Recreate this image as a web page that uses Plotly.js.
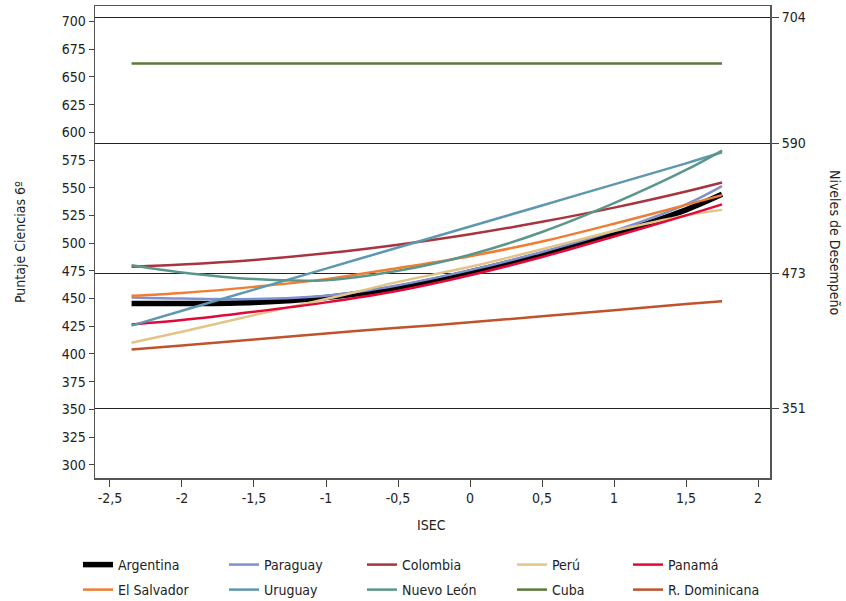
<!DOCTYPE html>
<html>
<head>
<meta charset="utf-8">
<script src="https://cdn.plot.ly/plotly-3.0.1.min.js"></script>
<style>html,body{margin:0;padding:0;background:#fff;}#chart{width:846px;height:601px;}</style>
</head>
<body>
<div id="chart"></div>
<script>
const isec = [-2.35, -2, -1.5, -1, -0.5, 0, 0.5, 1, 1.5, 1.75];
const argentina   = [445.5, 445.5, 446.5, 451, 460, 474, 490, 508, 530, 544];
const paraguay    = [451, 450, 449.5, 452.5, 462, 475.6, 492, 511, 535, 551.5];
const colombia    = [478.6, 480.6, 484.8, 490.8, 498.6, 508, 519.2, 532, 546.6, 554.7];
const peru        = [410, 420, 435, 449.5, 465, 478.6, 494.5, 511, 525, 530];
const panama      = [426.5, 430.5, 438, 446.5, 457, 471, 487.5, 506, 525, 535];
const elSalvador  = [452.4, 455, 460.5, 467.5, 477.5, 488.2, 501.5, 517.5, 534.5, 543.3];
const uruguay     = [425.5, 439, 458, 477, 496, 515, 534, 553, 572, 582];
const nuevoLeon   = [480, 473.5, 467.5, 466.5, 475, 489.5, 510, 536, 566, 583.5];
const cuba        = [662, 662, 662, 662, 662, 662, 662, 662, 662, 662];
const rDominicana = [404, 407.5, 413, 418.5, 423.5, 428.5, 434, 439.5, 445, 447.5];

const seriesNames = ["Argentina","Paraguay","Colombia","Perú","Panamá","El Salvador","Uruguay","Nuevo León","Cuba","R. Dominicana"];
const seriesData = [argentina, paraguay, colombia, peru, panama, elSalvador, uruguay, nuevoLeon, cuba, rDominicana];
const seriesColors = ["#000000","#7F90D0","#A8343F","#E2C486","#E2093A","#F07D32","#5E98B0","#5B968A","#5A7A38","#C0532C"];
const seriesWidths = [5.5, 2.5, 2.5, 2.5, 2.5, 2.5, 2.5, 2.5, 2.5, 2.5];

const xTickVals = [-2.5, -2, -1.5, -1, -0.5, 0, 0.5, 1, 1.5, 2];
const xTickText = ["-2,5","-2","-1,5","-1","-0,5","0","0,5","1","1,5","2"];
const levelVals = [351, 473, 590, 704];

// legend item pixel positions (text start x, row center y)
const legX = [118, 264, 402, 552, 668, 118, 264, 402, 552, 668];
const legY = [565, 565, 565, 565, 565, 590, 590, 590, 590, 590];

const FONT = "DejaVu Sans Condensed, Liberation Sans Narrow, sans-serif";
const FS = 14;
const W = 846, H = 601;

const traces = seriesNames.map((n, i) => ({
  type: "scatter", mode: "lines", name: n, x: isec, y: seriesData[i],
  line: {color: seriesColors[i], width: seriesWidths[i], shape: "spline", smoothing: 0.9},
  legend: i === 0 ? "legend" : "legend" + (i + 1),
  hoverinfo: "x+y+name"
}));
traces.push({type:"scatter", mode:"lines", x:[isec[0]], y:[levelVals[0]], yaxis:"y2", showlegend:false, hoverinfo:"skip", line:{width:0}});

const layout = {
  width: W, height: H,
  margin: {l: 95, r: 76, t: 6, b: 123, autoexpand: false},
  paper_bgcolor: "#fff", plot_bgcolor: "#fff",
  font: {family: FONT, size: FS, color: "#222"},
  separators: ",.",
  xaxis: {
    range: [-2.604, 2.083], tickvals: xTickVals, ticktext: xTickText,
    showgrid: false, zeroline: false, showline: true, mirror: true,
    linecolor: "#555", linewidth: 1.5, ticks: "outside", ticklen: 7, tickcolor: "#444",
    tickfont: {family: FONT, size: FS, color: "#222"},
    automargin: false
  },
  yaxis: {
    range: [288, 714], dtick: 25, tick0: 300,
    showgrid: false, zeroline: false, showline: true, mirror: true,
    linecolor: "#555", linewidth: 1.5, ticks: "outside", ticklen: 5, tickcolor: "#444",
    tickfont: {family: FONT, size: FS, color: "#222"},
    automargin: false
  },
  yaxis2: {
    range: [288, 714], overlaying: "y", side: "right", tickvals: levelVals,
    showgrid: true, gridcolor: "#222", gridwidth: 1, zeroline: false, showline: false,
    ticks: "outside", ticklen: 8, tickcolor: "#444",
    tickfont: {family: FONT, size: FS, color: "#222"}, layer: "below traces",
    automargin: false
  },
  annotations: [
    {text: "ISEC", xref: "paper", yref: "paper", x: (431 - 95) / 675, y: -(525 - 478) / 472,
     xanchor: "center", yanchor: "middle", showarrow: false, font: {family: FONT, size: FS, color: "#222"}},
    {text: "Puntaje Ciencias 6º", xref: "paper", yref: "paper", x: (20 - 95) / 675, y: 0.5,
     xanchor: "center", yanchor: "middle", textangle: -90, showarrow: false, font: {family: FONT, size: FS, color: "#222"}},
    {text: "Niveles de Desempeño", xref: "paper", yref: "paper", x: (835 - 95) / 675, y: 0.5,
     xanchor: "center", yanchor: "middle", textangle: 90, showarrow: false, font: {family: FONT, size: FS, color: "#222"}}
  ],
  showlegend: true
};
seriesNames.forEach((n, i) => {
  const key = i === 0 ? "legend" : "legend" + (i + 1);
  layout[key] = {
    xref: "container", yref: "container",
    x: (legX[i] - 40) / W, y: 1 - legY[i] / H,
    xanchor: "left", yanchor: "middle",
    bgcolor: "rgba(0,0,0,0)", borderwidth: 0,
    font: {family: FONT, size: FS, color: "#222"}
  };
});

Plotly.newPlot("chart", traces, layout, {displayModeBar: false, staticPlot: true});
</script>
</body>
</html>
